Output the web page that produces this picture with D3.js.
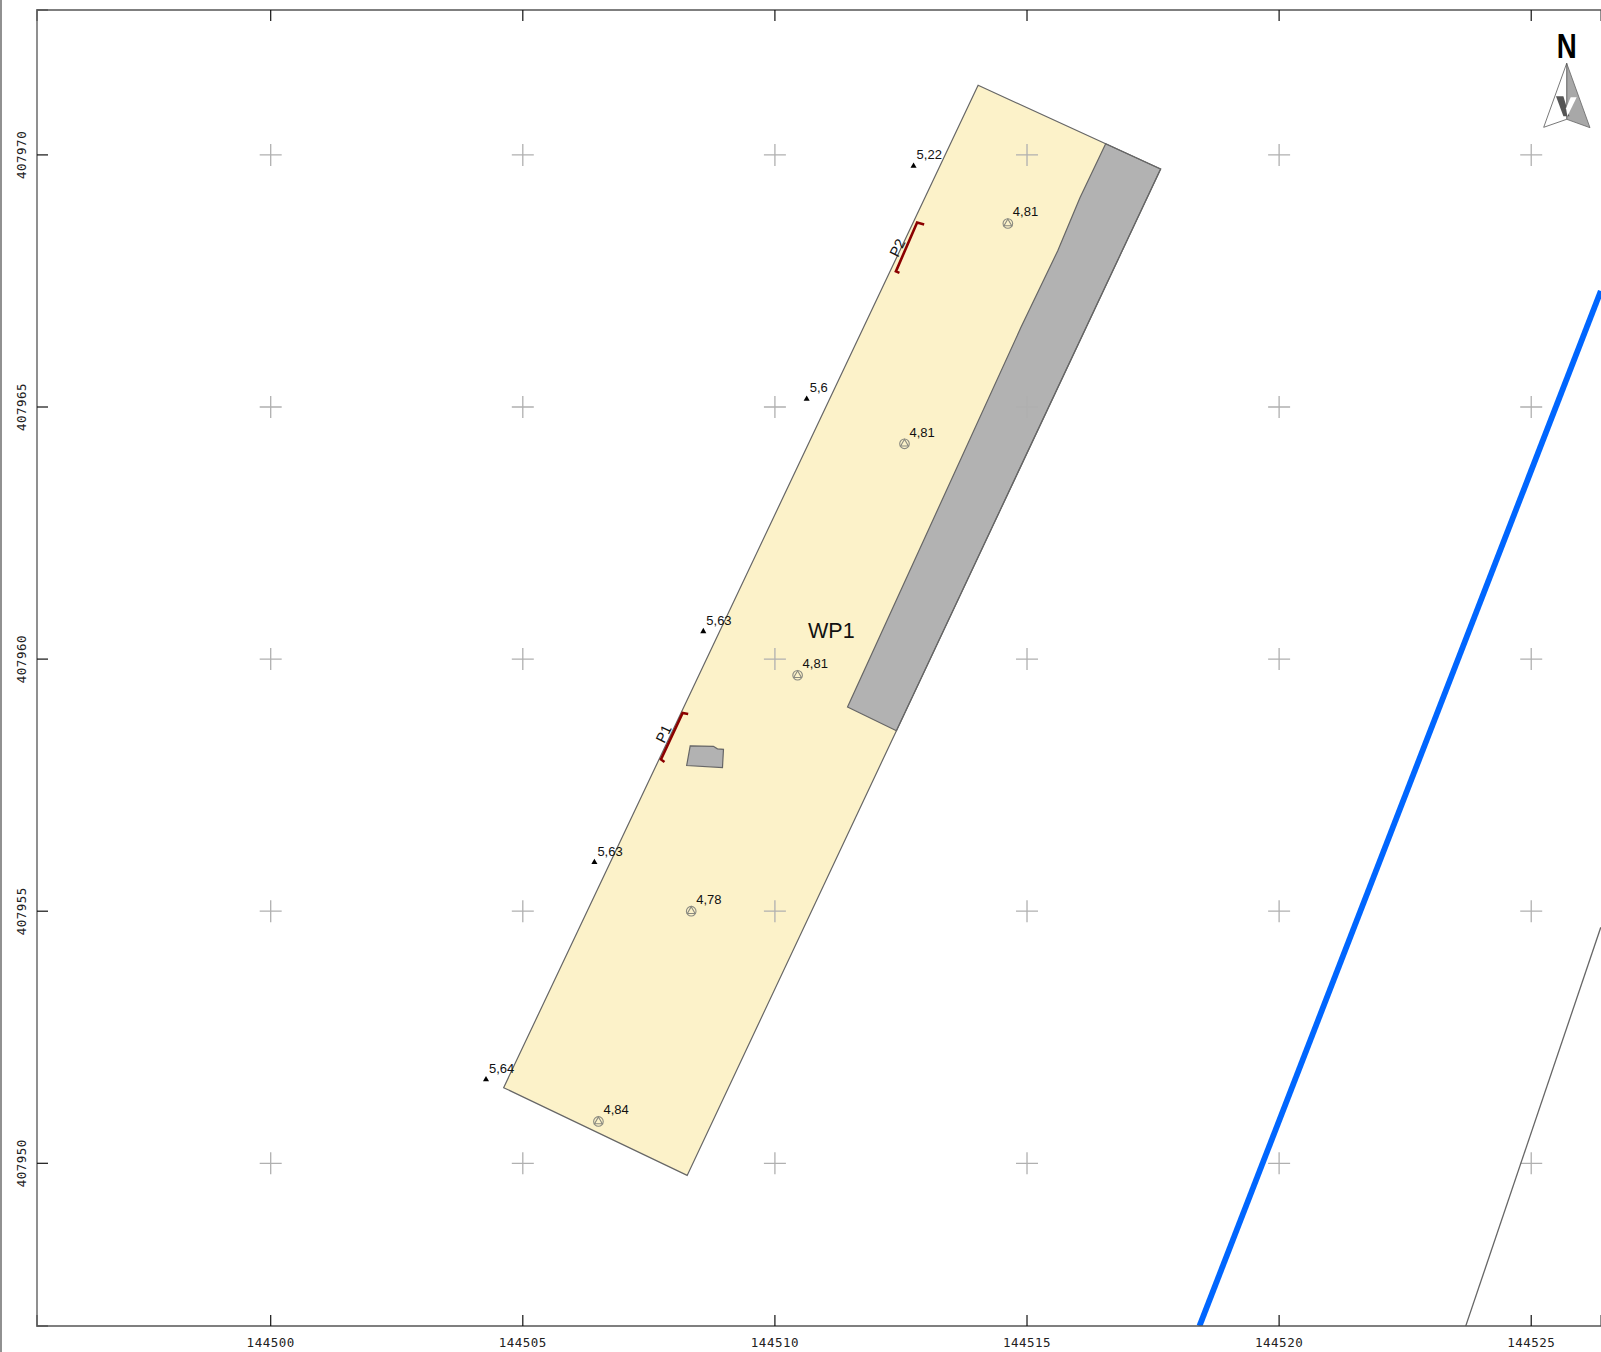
<!DOCTYPE html>
<html lang="en">
<head>
  <meta charset="UTF-8">
  <title>WP1 map</title>
  <script src="https://d3js.org/d3.v7.min.js"></script>
  <style>
    html, body { margin: 0; padding: 0; background: #fff; overflow: hidden; }
    svg { display: block; }
    .tick-label { font-family: "DejaVu Sans Mono", monospace; font-size: 12.5px; letter-spacing: 0.5px; fill: #222; }
    .lbl { font-family: "Liberation Sans", Arial, sans-serif; font-size: 13px; fill: #111; }
  </style>
</head>
<body>
  <svg width="1601" height="1352"></svg>

  <script>
    // Grid / tick values (RD coordinates, metres)
    var xTicks = [144500, 144505, 144510, 144515, 144520, 144525];
    var yTicks = [407950, 407955, 407960, 407965, 407970];

    // Parcel outline
    var parcel = [[144514.03, 407971.38], [144516.56, 407970.22], [144517.65, 407969.72],
                  [144512.41, 407958.58], [144508.26, 407949.76], [144504.62, 407951.50]];
    // Grey strip along the east side
    var strip = [[144516.56, 407970.22], [144517.65, 407969.72], [144512.41, 407958.58],
                 [144511.44, 407959.05], [144514.88, 407966.58], [144515.61, 407968.10],
                 [144516.05, 407969.15]];
    // Small building
    var building = [[144508.32, 407958.28], [144508.78, 407958.27], [144508.86, 407958.22],
                    [144508.98, 407958.21], [144508.96, 407957.85], [144508.25, 407957.89]];
    // Profile brackets
    var profileP1 = [[144508.28, 407958.91], [144508.17, 407958.93], [144507.74, 407958.01], [144507.81, 407957.96]];
    var profileP2 = [[144512.96, 407968.62], [144512.82, 407968.66], [144512.40, 407967.69], [144512.47, 407967.66]];
    var profileLabels = [["P1", 144507.79, 407958.52], ["P2", 144512.43, 407968.16]];

    // Levels outside the parcel (triangles)
    var spotHeights = [["5,22", 144512.75, 407969.78], ["5,6", 144510.63, 407965.16],
                       ["5,63", 144508.58, 407960.55], ["5,63", 144506.42, 407955.97],
                       ["5,64", 144504.27, 407951.66]];
    // Levels inside the parcel (circles)
    var bedLevels = [["4,81", 144514.62, 407968.64], ["4,81", 144512.57, 407964.27],
                     ["4,81", 144510.45, 407959.68], ["4,78", 144508.34, 407955.00],
                     ["4,84", 144506.50, 407950.83]];

    var blueLine = [[144518.42, 407946.77], [144526.38, 407967.30]];
    var greyLine = [[144523.70, 407946.77], [144526.38, 407954.68]];

    var svg = d3.select("svg");

    var left = 37, right = 1601, plotTop = 10, bottom = 1326;

    var x = d3.scaleLinear().domain([144495.365, 144526.384]).range([left, right]);
    var y = d3.scaleLinear().domain([407946.773, 407972.874]).range([bottom, plotTop]);

    var line = d3.line().x(d => x(d[0])).y(d => y(d[1]));
    var ring = d3.line().x(d => x(d[0])).y(d => y(d[1])).curve(d3.curveLinearClosed);

    // Frame at the very left of the sheet
    svg.append("line").attr("x1", 1).attr("x2", 1).attr("y1", 0).attr("y2", 1352)
        .attr("stroke", "#555").attr("stroke-width", 1.3);

    // Parcel
    svg.append("path").attr("d", ring(parcel)).attr("fill", "#fcf2c9").attr("stroke", "none");
    svg.append("path").attr("d", ring(strip)).attr("fill", "#b2b2b2")
        .attr("stroke", "#666").attr("stroke-width", 1.2);
    svg.append("path").attr("d", ring(parcel)).attr("fill", "none")
        .attr("stroke", "#666").attr("stroke-width", 1.2);

    // Grid crosses
    var cross = svg.append("g");
    xTicks.forEach(function(gx) {
      yTicks.forEach(function(gy) {
        cross.append("path")
            .attr("transform", "translate(" + x(gx) + "," + y(gy) + ")")
            .attr("d", "M-11,0H11M0,-11V11")
            .attr("fill", "none").attr("stroke", "#b0b0b0").attr("stroke-width", 1.3);
      });
    });

    svg.append("path").attr("d", ring(building)).attr("fill", "#b2b2b2")
        .attr("stroke", "#666").attr("stroke-width", 1.2);

    // Lines to the east
    svg.append("defs").append("clipPath").attr("id", "plot").append("rect")
        .attr("x", left).attr("y", plotTop).attr("width", right - left).attr("height", bottom - plotTop);
    svg.append("path").attr("d", line(blueLine)).attr("clip-path", "url(#plot)")
        .attr("fill", "none").attr("stroke", "#0066ff").attr("stroke-width", 5.8);
    svg.append("path").attr("d", line(greyLine)).attr("clip-path", "url(#plot)")
        .attr("fill", "none").attr("stroke", "#666").attr("stroke-width", 1.3);

    // Profile brackets
    [profileP1, profileP2].forEach(function(p) {
      svg.append("path").attr("d", line(p)).attr("fill", "none")
          .attr("stroke", "#8b0000").attr("stroke-width", 2.6);
    });
    profileLabels.forEach(function(d) {
      svg.append("text").attr("class", "lbl").style("font-size", "14.5px")
          .attr("transform", "translate(" + x(d[1]) + "," + y(d[2]) + ") rotate(-64)")
          .attr("text-anchor", "middle").attr("dy", "0.35em").text(d[0]);
    });

    // Level markers
    var tri = d3.symbol().type(d3.symbolTriangle).size(16);
    spotHeights.forEach(function(d) {
      svg.append("path").attr("d", tri())
          .attr("transform", "translate(" + x(d[1]) + "," + y(d[2]) + ")").attr("fill", "#000");
      svg.append("text").attr("class", "lbl").attr("x", x(d[1]) + 3).attr("y", y(d[2]) - 6.5).text(d[0]);
    });
    var triOpen = d3.symbol().type(d3.symbolTriangle).size(26);
    bedLevels.forEach(function(d) {
      var g = svg.append("g").attr("transform", "translate(" + x(d[1]) + "," + y(d[2]) + ")");
      g.append("circle").attr("r", 4.8).attr("fill", "none").attr("stroke", "#8a8a80").attr("stroke-width", 1.1);
      g.append("path").attr("d", triOpen()).attr("fill", "none").attr("stroke", "#8a8a80").attr("stroke-width", 1.1);
      svg.append("text").attr("class", "lbl").attr("x", x(d[1]) + 5).attr("y", y(d[2]) - 7).text(d[0]);
    });

    svg.append("text").attr("class", "lbl").attr("x", 808).attr("y", 638)
        .style("font-size", "21.5px").text("WP1");

    // Axes: ticks point inwards
    var axisBottom = svg.append("g").attr("transform", "translate(0," + bottom + ")")
        .call(d3.axisBottom(x).tickValues(xTicks).tickSize(-11).offset(0).tickFormat(d3.format("d")));
    var axisTop = svg.append("g").attr("transform", "translate(0," + plotTop + ")")
        .call(d3.axisTop(x).tickValues(xTicks).tickSize(-11).offset(0).tickFormat(""));
    var axisLeft = svg.append("g").attr("transform", "translate(" + left + ",0)")
        .call(d3.axisLeft(y).tickValues(yTicks).tickSize(-11).offset(0).tickFormat(d3.format("d")));

    [axisBottom, axisTop, axisLeft].forEach(function(a) {
      a.select(".domain").attr("stroke", "#555").attr("stroke-width", 1.3);
      a.selectAll(".tick line").attr("stroke", "#111").attr("stroke-width", 1.2);
    });
    axisBottom.selectAll("text").attr("class", "tick-label").attr("y", 12).attr("dy", "0.71em");
    axisLeft.selectAll("text").attr("class", "tick-label")
        .attr("transform", "rotate(-90)").attr("x", 0).attr("y", -11)
        .attr("dy", 0).attr("text-anchor", "middle");

    // North arrow
    var north = svg.append("g").attr("transform", "translate(1566.7,63.3)");
    north.append("text").attr("x", 0).attr("y", -5.5).attr("text-anchor", "middle")
        .style("font-family", "'Liberation Sans', Arial, sans-serif").style("font-weight", "bold")
        .style("font-size", "35px").attr("fill", "#000").attr("textLength", 20).attr("lengthAdjust", "spacingAndGlyphs").text("N");
    north.append("path").attr("d", "M0,0L0,56L23.3,64.4Z").attr("fill", "#a8a8a8").attr("stroke", "#666").attr("stroke-width", 0.8);
    north.append("path").attr("d", "M0,0L0,56L-23,64Z").attr("fill", "#fff").attr("stroke", "#555").attr("stroke-width", 0.8);
    north.append("path").attr("d", "M-10.7,33L-3.3,33L2.7,53L-3.3,53Z").attr("fill", "#555");
    north.append("path").attr("d", "M0.7,53L10,34L4,34L-0.7,45Z").attr("fill", "#fff");
  </script>
</body>
</html>
